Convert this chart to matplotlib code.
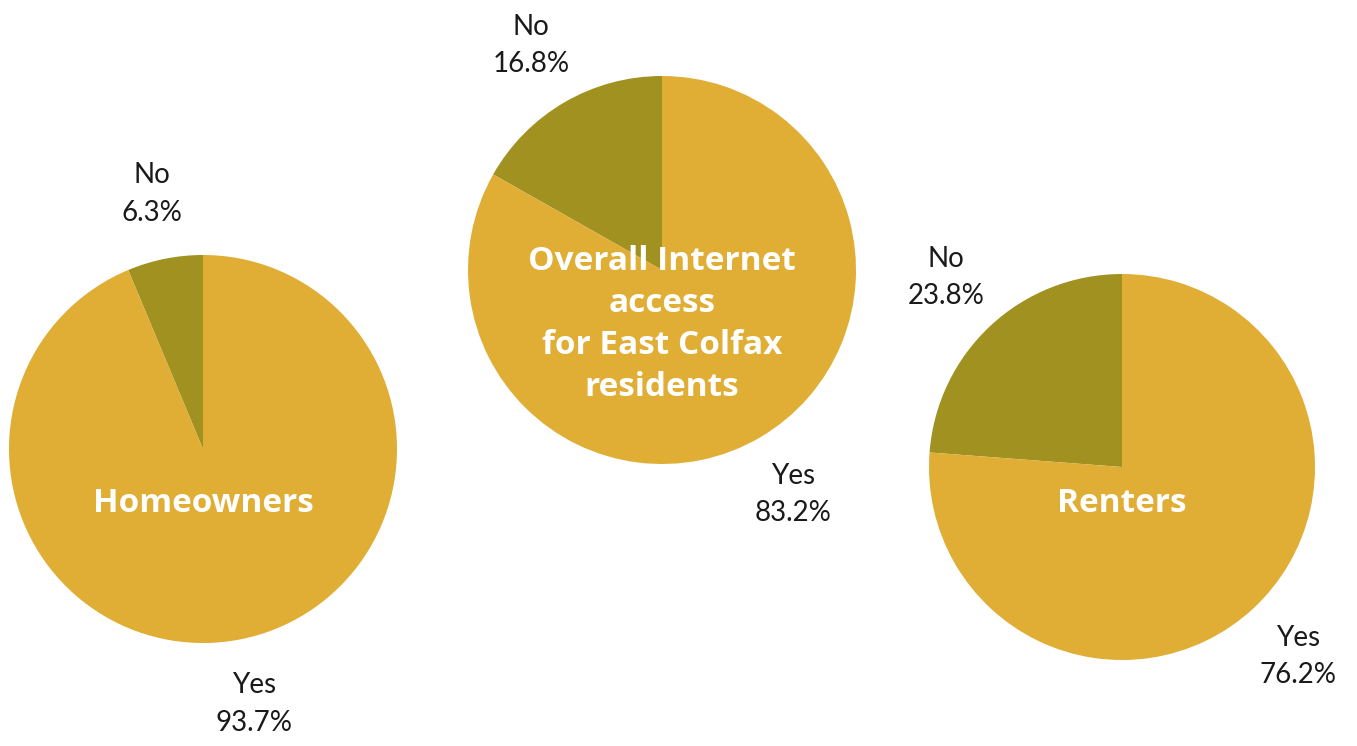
import matplotlib.pyplot as plt

# Share of residents with internet access, by housing group
groups = ['Homeowners', 'Overall Internet\naccess\nfor East Colfax\nresidents', 'Renters']
answers = ['No', 'Yes']
no_share = [6.3, 16.8, 23.8]
yes_share = [93.7, 83.2, 76.2]

colors = ['#A09120', '#E0AD35']

# pie centre (x, y) and radius in pixels of the 1357x746 canvas
centres = [(203, 449, 194), (662, 270, 194), (1122, 467, 193)]
title_offset = [-0.28, -0.28, -0.19]

W, H = 1357, 746
fig = plt.figure(figsize=(W / 100, H / 100), dpi=100)

for name, no, yes, (cx, cy, r), dy in zip(groups, no_share, yes_share,
                                          centres, title_offset):
    ax = fig.add_axes([(cx - r) / W, (H - cy - r) / H, 2 * r / W, 2 * r / H])
    labels = ['%s\n%.1f%%' % (a, v) for a, v in zip(answers, (no, yes))]
    wedges, texts = ax.pie([no, yes], labels=labels, colors=colors,
                           startangle=90, counterclock=True, radius=1.0,
                           labeldistance=1.34,
                           wedgeprops=dict(linewidth=0),
                           textprops=dict(ha='center', va='center',
                                          family='Lato', fontweight='normal',
                                          fontsize=20, color='#1a1a1a',
                                          linespacing=1.55))
    ax.text(0, dy, name, ha='center', va='center', color='white',
            family='Open Sans', fontweight='bold', fontsize=24,
            linespacing=1.36)
    ax.set_xlim(-1, 1)
    ax.set_ylim(-1, 1)
    ax.set_aspect('equal')
    ax.axis('off')

fig.savefig('out.png', dpi=100, facecolor='white')
